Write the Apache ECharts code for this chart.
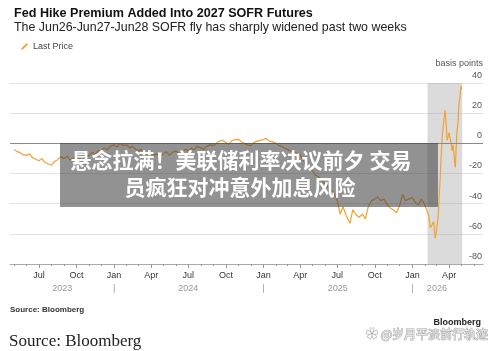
<!DOCTYPE html>
<html>
<head>
<meta charset="utf-8">
<script src="https://cdn.jsdelivr.net/npm/echarts@6/dist/echarts.min.js"></script>
<style>
html, body { margin: 0; padding: 0; background: #fff; }
#chart { width: 500px; height: 351px; }
</style>
</head>
<body>
<div id="chart"></div>
<script>
// weekly readings, four per month (days below), May 2023 - Jan 2026
var weekMonths = ['2023-05','2023-06','2023-07','2023-08','2023-09','2023-10','2023-11','2023-12',
    '2024-01','2024-02','2024-03','2024-04','2024-05','2024-06','2024-07','2024-08','2024-09','2024-10','2024-11','2024-12',
    '2025-01','2025-02','2025-03','2025-04','2025-05','2025-06','2025-07','2025-08','2025-09','2025-10','2025-11','2025-12',
    '2026-01'];
var weekDays = ['01', '08', '15', '23'];
var weekValues = [
    -4, -5.5, -6, -7.5,      -8, -7, -9.5, -10.5,
    -11.5, -10, -12.5, -13.5, -14.5, -12, -11, -9,
    -10, -8.5, -11, -10,     -8, -10, -12, -9,
    -8, -6, -7.5, -5,        -5, -3, -4.5, -2,
    -1, -2.5, 0, -1.5,       -1, -3, -2, -4,
    -5, -4, -6.5, -7,        -6, -8, -7, -9,
    -7, -5.5, -8, -6,        -5, -7, -6, -4,
    -5, -3, -4.5, -2,        -3, -4, -2, -1,
    -1.5, 0, 1.5, 2,         0.5, -0.5, 1.5, 2.5,
    2.6, 1, 0, -1.2,         -1.5, 0.5, 1.3, 2,
    2.5, 3.3, 1.5, 1,        0, -1.5, -2, -3.5,
    -4, -5, -5.5, -6.5,      -8, -11, -14, -17,
    -18, -21, -22, -24,      -27, -29, -31, -33,
    -38, -47, -42, -48,      -53, -44, -47, -49,
    -47, -50, -42, -38,      -37, -35.5, -38, -37,
    -41, -43, -44, -46,      -41, -34, -38, -37,
    -36, -39, -41, -37
];
// denser readings for the recent swing
var lateDates = ['2026-01-30','2026-02-02','2026-02-05','2026-02-10','2026-02-14','2026-02-18','2026-02-22','2026-02-26',
    '2026-03-01','2026-03-02','2026-03-05','2026-03-07','2026-03-10','2026-03-12','2026-03-15','2026-03-17','2026-03-20',
    '2026-03-22','2026-03-25','2026-03-27','2026-03-30','2026-04-01','2026-04-03','2026-04-06','2026-04-08','2026-04-11',
    '2026-04-13','2026-04-16','2026-04-18','2026-04-20','2026-04-23','2026-04-25','2026-04-28','2026-04-30','2026-05-02'];
var lateValues = [-40, -41, -44, -48, -56, -54, -52, -63,
    -58, -55, -49, -38, -24, -11, 4, 10, 17,
    22, 12, 2, 5, 7, 4, 0, -5, -1,
    -8, -16, -5, 7, 15, 26, 32, 38, 36];

var shadeRange = ['2026-02-07', '2026-05-03'];
var xRange = ['2023-04-21', '2026-06-23'];
var yTicks = { min: -80, max: 40, step: 20 };
var monNames = ['Jan','Feb','Mar','Apr','May','Jun','Jul','Aug','Sep','Oct','Nov','Dec'];

function ts(y, m, d) { return Date.UTC(y, m, d); }
function parseDay(s) {
    var p = s.split('-');
    return ts(+p[0], +p[1] - 1, +p[2]);
}

var seriesData = [];
var k = 0;
weekMonths.forEach(function (m) {
    weekDays.forEach(function (d) {
        seriesData.push([parseDay(m + '-' + d), weekValues[k++]]);
    });
});
lateDates.forEach(function (d, i) { seriesData.push([parseDay(d), lateValues[i]]); });

var monthTicks = [];
for (var y = 2023; y <= 2026; y++) {
    for (var m = 0; m < 12; m++) {
        var t = ts(y, m, 1);
        if (t >= ts(2023, 4, 1) && t <= ts(2026, 5, 1)) monthTicks.push(t);
    }
}
var quarterTicks = monthTicks.filter(function (t) { return new Date(t).getUTCMonth() % 3 === 0; });
var yearMarks = [ts(2023, 7, 27), ts(2024, 0, 1), ts(2024, 6, 1), ts(2025, 0, 1), ts(2025, 6, 2), ts(2026, 0, 1), ts(2026, 2, 2)];

var myChart = echarts.init(document.getElementById('chart'));

var option = {
    animation: false,
    textStyle: { fontFamily: 'Liberation Sans, Arial, sans-serif' },
    title: [{
        text: 'Fed Hike Premium Added Into 2027 SOFR Futures',
        left: 9, top: 2,
        textStyle: { fontSize: 12.6, fontWeight: 'bold', color: '#111' }
    }, {
        text: 'The Jun26-Jun27-Jun28 SOFR fly has sharply widened past two weeks',
        left: 9, top: 17,
        textStyle: { fontSize: 12.4, fontWeight: 'normal', color: '#222' }
    }],
    legend: {
        left: 16, top: 37,
        itemWidth: 7, itemHeight: 8, itemGap: 4,
        icon: 'path://M0,9 L7,2 L9,3.5 L2,10.5 Z',
        textStyle: { fontSize: 9, color: '#444' },
        data: ['Last Price']
    },
    grid: { left: 10, right: 17, top: 83, bottom: 87 },
    xAxis: [{
        type: 'value',
        min: parseDay(xRange[0]), max: parseDay(xRange[1]),
        axisLine: { onZero: false, lineStyle: { color: '#aaa' } },
        axisTick: { customValues: monthTicks, length: 2, lineStyle: { color: '#999' } },
        axisLabel: {
            customValues: quarterTicks,
            fontSize: 9, color: '#333', margin: 7,
            formatter: function (v) { return monNames[new Date(v).getUTCMonth()]; }
        },
        splitLine: { show: false }
    }, {
        type: 'value',
        position: 'bottom',
        min: parseDay(xRange[0]), max: parseDay(xRange[1]),
        axisLine: { show: false, onZero: false },
        axisTick: { customValues: quarterTicks, length: 4, lineStyle: { color: '#999' } },
        axisLabel: {
            customValues: yearMarks,
            fontSize: 9, color: '#999', margin: 20,
            formatter: function (v) {
                var d = new Date(v);
                return (d.getUTCMonth() === 0 && d.getUTCDate() === 1) ? '|' : String(d.getUTCFullYear());
            }
        },
        splitLine: { show: false }
    }],
    yAxis: {
        type: 'value',
        position: 'right',
        min: yTicks.min, max: yTicks.max, interval: yTicks.step,
        name: 'basis points',
        nameLocation: 'end',
        nameGap: 15,
        nameTextStyle: { fontSize: 9, color: '#555', align: 'right' },
        axisLine: { show: false },
        axisTick: { show: false },
        axisLabel: {
            inside: true, align: 'right', verticalAlign: 'bottom',
            margin: 1, padding: [0, 0, 3, 0],
            fontSize: 9, color: '#555'
        },
        splitLine: { lineStyle: { color: '#e2e2e2' } }
    },
    series: [{
        name: 'Last Price',
        type: 'line',
        showSymbol: false,
        color: '#f2a231',
        lineStyle: { width: 1.2, color: '#f2a231' },
        data: seriesData,
        markArea: {
            silent: true,
            itemStyle: { color: 'rgba(160,160,160,0.38)' },
            data: [[{ xAxis: parseDay(shadeRange[0]) }, { xAxis: parseDay(shadeRange[1]) }]]
        },
        markLine: {
            silent: true,
            symbol: 'none',
            label: { show: false },
            lineStyle: { color: '#8a8a8a', width: 1, type: 'solid' },
            data: [{ yAxis: 0 }]
        }
    }],
    graphic: [{
        type: 'rect', z: 100,
        shape: { x: 60, y: 143, width: 378, height: 64 },
        style: { fill: 'rgba(60,60,60,0.56)' }
    }, {
        type: 'text', z: 101,
        style: {
            text: '悬念拉满！美联储利率决议前夕 交易', x: 241, y: 160,
            align: 'center', verticalAlign: 'middle',
            font: 'bold 21px "Noto Sans CJK SC"', fill: '#fff',
            shadowColor: 'rgba(0,0,0,0.3)', shadowBlur: 2
        }
    }, {
        type: 'text', z: 101,
        style: {
            text: '员疯狂对冲意外加息风险', x: 240, y: 187,
            align: 'center', verticalAlign: 'middle',
            font: 'bold 21px "Noto Sans CJK SC"', fill: '#fff',
            shadowColor: 'rgba(0,0,0,0.3)', shadowBlur: 2
        }
    }, {
        type: 'text',
        style: {
            text: 'Source: Bloomberg', x: 10, y: 310,
            verticalAlign: 'middle',
            font: 'bold 8px "Liberation Sans"', fill: '#333'
        }
    }, {
        type: 'text',
        style: {
            text: 'Source: Bloomberg', x: 9, y: 342,
            verticalAlign: 'middle',
            font: '17px "Liberation Serif"', fill: '#222'
        }
    }, {
        type: 'text',
        style: {
            text: 'Bloomberg', x: 481, y: 323,
            align: 'right', verticalAlign: 'middle',
            font: 'bold 9px "Liberation Sans"', fill: '#222'
        }
    }, {
        type: 'text',
        style: {
            text: '✿ @岁月平淡前行轨迹', x: 488, y: 334,
            align: 'right', verticalAlign: 'middle',
            font: '12px "Noto Sans CJK SC"',
            fill: 'rgba(255,255,255,0.7)', stroke: '#aaa', lineWidth: 1
        }
    }]
};

myChart.setOption(option);
</script>
</body>
</html>
